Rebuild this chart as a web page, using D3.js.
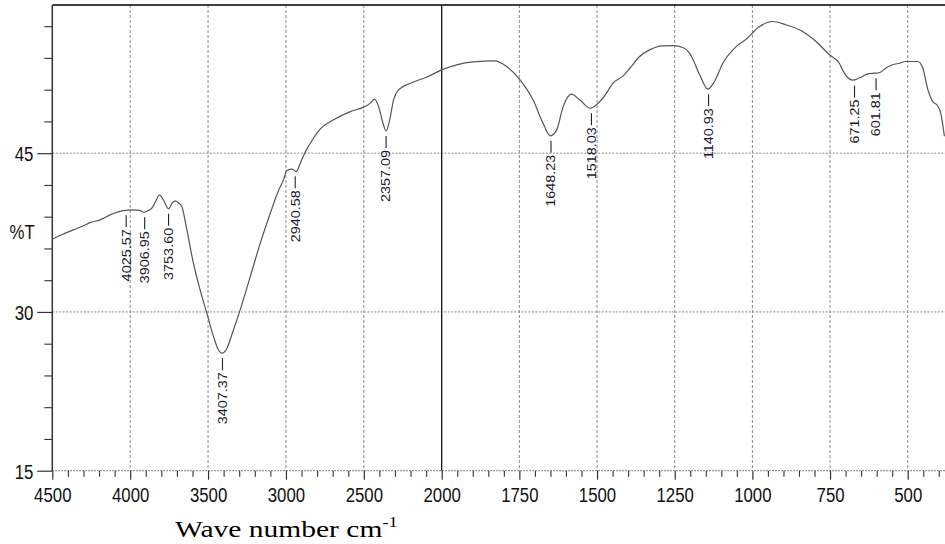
<!DOCTYPE html>
<html>
<head>
<meta charset="utf-8">
<script src="https://cdn.jsdelivr.net/npm/d3@7"></script>
<style>
  html, body { margin: 0; padding: 0; background: #fff; }
  svg { display: block; }
</style>
</head>
<body>
<svg id="chart" width="945" height="544"></svg>
<script>
// ---- Data ----
const wavenumber = [4500,4440,4365,4300,4258,4193,4129,4044,3979,3940,3911,3880,3861,3835,3812,3787,3754,3730,3711,3690,3668,3636,3594,3551,3508,3465,3433,3411,3390,3379,3337,3294,3229,3165,3101,3047,3015,2994,2961,2934,2908,2876,2833,2801,2779,2694,2587,2501,2458,2432,2405,2377,2357,2334,2309,2276,2201,2094,2000,1952,1898,1829,1791,1748,1706,1674,1650,1630,1609,1582,1556,1521,1491,1470,1449,1416,1395,1363,1331,1288,1253,1224,1202,1192,1168,1143,1122,1095,1052,1020,977,935,892,838,795,752,720,710,677,656,645,629,605,592,570,549,527,506,468,452,436,420,404,393,382];
const transmittance = [36.87,37.3,37.75,38.15,38.44,38.7,39.17,39.57,39.64,39.6,39.42,39.6,39.8,40.5,41.06,40.6,39.74,40.3,40.5,40.3,39.95,37.75,34.6,32.08,29.88,27.67,26.4,26.1,26.3,26.57,28.3,30.19,33.34,36.5,39.3,41.5,42.5,43.36,43.49,43.26,44.05,45.1,46.2,46.9,47.3,48.15,48.93,49.35,49.73,50.1,49.4,47.84,47.1,48.15,50.04,51.0,51.6,52.2,52.87,53.35,53.63,53.72,53.19,51.93,50.04,47.84,46.64,47.2,49.4,50.58,50.04,49.25,49.88,50.67,51.6,52.3,53.0,54.13,54.76,55.14,55.16,54.98,54.45,53.9,52.3,51.05,51.77,53.5,55.07,55.77,56.96,57.44,57.13,56.5,55.55,54.3,53.5,52.87,51.9,52.1,52.24,52.5,52.56,52.6,53.04,53.35,53.5,53.66,53.66,53.1,51.1,49.88,49.5,48.7,46.6];

const peakLabels = ["4025.57","3906.95","3753.60","3407.37","2940.58","2357.09","1648.23","1518.03","1140.93","671.25","601.81"];
const peakWn     = [4025.57,3906.95,3753.60,3407.37,2940.58,2357.09,1648.23,1518.03,1140.93,671.25,601.81];
const peakT      = [39.6,39.42,39.74,26.1,43.3,47.1,46.64,49.25,51.05,51.86,52.56];

const xMajorHigh = [4500,4000,3500,3000,2500,2000];
const xMajorLow  = [1750,1500,1250,1000,750,500];
const yMajor     = [15,30,45];
const yTitle = "%T";
const xTitle = "Wave number cm";
const xTitleSup = "-1";

// ---- Layout ----
const L = 52.3, R = 945, T = 5, B = 470.7;
const svg = d3.select("#chart");

const x = d3.scaleLinear().domain([4500, 2000, 380]).range([L, 441.7, R]);
const y = d3.scaleLinear().domain([15, 59]).range([B, T]);

const xMajor = xMajorHigh.concat(xMajorLow);
const xMinor = d3.range(4400, 2000, -100).concat(d3.range(1950, 399, -50)).filter(v => !xMajor.includes(v));
const yMinor = d3.range(18, 59, 3).filter(v => !yMajor.includes(v));

const gridColor = "#8a8a8a";
const axisColor = "#333";

// vertical grid lines
svg.append("g").selectAll("line")
  .data(xMajor.filter(v => v !== 4500 && v !== 2000))
  .join("line")
  .attr("x1", d => x(d)).attr("x2", d => x(d))
  .attr("y1", T).attr("y2", B)
  .attr("stroke", gridColor).attr("stroke-width", 1)
  .attr("stroke-dasharray", "3,2");

// horizontal grid lines
svg.append("g").selectAll("line")
  .data([30, 45])
  .join("line")
  .attr("x1", L).attr("x2", R)
  .attr("y1", d => y(d)).attr("y2", d => y(d))
  .attr("stroke", gridColor).attr("stroke-width", 1)
  .attr("stroke-dasharray", "2,1.5");

// bottom dotted baseline
svg.append("line")
  .attr("x1", L).attr("x2", R).attr("y1", B).attr("y2", B)
  .attr("stroke", "#777").attr("stroke-width", 1.2)
  .attr("stroke-dasharray", "1.5,1.5");

// solid line at 2000 (scale change)
svg.append("line")
  .attr("x1", x(2000)).attr("x2", x(2000)).attr("y1", T).attr("y2", B)
  .attr("stroke", "#000").attr("stroke-width", 1.2);

// top border
svg.append("line")
  .attr("x1", L).attr("x2", R).attr("y1", T).attr("y2", T)
  .attr("stroke", "#000").attr("stroke-width", 1.5);

// ---- X axis ----
const fontTick = "'Liberation Sans', Arial, sans-serif";
const xAxisMajor = svg.append("g").attr("transform", `translate(0,${B})`)
  .call(d3.axisBottom(x).tickValues(xMajor).tickSize(9).tickFormat(d3.format("d")));
xAxisMajor.select(".domain").remove();
xAxisMajor.selectAll(".tick line").attr("stroke", axisColor).attr("stroke-width", 1.2);
xAxisMajor.selectAll(".tick text")
  .attr("y", 31).attr("dy", 0)
  .attr("font-family", fontTick).attr("font-size", 21)
  .attr("fill", "#111")
  .attr("transform", "scale(0.8,1)");

const xAxisMinor = svg.append("g").attr("transform", `translate(0,${B})`)
  .call(d3.axisBottom(x).tickValues(xMinor).tickSize(6).tickFormat(""));
xAxisMinor.select(".domain").remove();
xAxisMinor.selectAll(".tick line").attr("stroke", axisColor).attr("stroke-width", 1.1);

// ---- Y axis ----
const yAxisMajor = svg.append("g").attr("transform", `translate(${L},0)`)
  .call(d3.axisLeft(y).tickValues(yMajor).tickSize(15).tickFormat(d3.format("d")));
yAxisMajor.select(".domain").remove();
yAxisMajor.selectAll(".tick line").attr("stroke", axisColor).attr("stroke-width", 1.2);
yAxisMajor.selectAll(".tick text")
  .attr("x", -19 / 0.8).attr("dy", "0.36em")
  .attr("font-family", fontTick).attr("font-size", 21)
  .attr("fill", "#111")
  .attr("transform", "scale(0.8,1)");

const yAxisMinor = svg.append("g").attr("transform", `translate(${L},0)`)
  .call(d3.axisLeft(y).tickValues(yMinor).tickSize(8).tickFormat(""));
yAxisMinor.select(".domain").remove();
yAxisMinor.selectAll(".tick line").attr("stroke", axisColor).attr("stroke-width", 1.1);

// left axis line
svg.append("line")
  .attr("x1", L).attr("x2", L).attr("y1", T).attr("y2", B)
  .attr("stroke", axisColor).attr("stroke-width", 1.5);

// y title
svg.append("text")
  .attr("transform", "translate(9.5,239) scale(0.8,1)")
  .attr("font-family", fontTick).attr("font-size", 21).attr("fill", "#111")
  .text(yTitle);

// x title
const xt = svg.append("text")
  .attr("transform", "translate(175,537) scale(1.23,1)")
  .attr("font-family", "'Liberation Serif', 'Times New Roman', serif")
  .attr("font-size", 24).attr("fill", "#000");
xt.append("tspan").text(xTitle);
xt.append("tspan").attr("font-size", 15).attr("dy", -10).text(xTitleSup);

// ---- Spectrum ----
const pts = wavenumber.map((w, i) => [w, transmittance[i]]);
svg.append("path")
  .datum(pts)
  .attr("fill", "none")
  .attr("stroke", "#555")
  .attr("stroke-width", 1.2)
  .attr("d", d3.line().x(d => x(d[0])).y(d => y(d[1])).curve(d3.curveMonotoneX));

// ---- Peak labels ----
const peaks = peakLabels.map((lab, i) => ({ lab, w: peakWn[i], t: peakT[i] }));
const pg = svg.append("g");
peaks.forEach(p => {
  const px = x(p.w), py = y(p.t);
  pg.append("line")
    .attr("x1", px).attr("x2", px)
    .attr("y1", py + 5).attr("y2", py + 17)
    .attr("stroke", "#222").attr("stroke-width", 1.1);
  pg.append("text")
    .attr("transform", `translate(${px},${py + 19}) rotate(-90) scale(1.2,1)`)
    .attr("text-anchor", "end")
    .attr("dy", "0.36em")
    .attr("font-family", fontTick).attr("font-size", 12)
    .attr("fill", "#1a1a2a")
    .text(p.lab);
});
</script>
</body>
</html>
